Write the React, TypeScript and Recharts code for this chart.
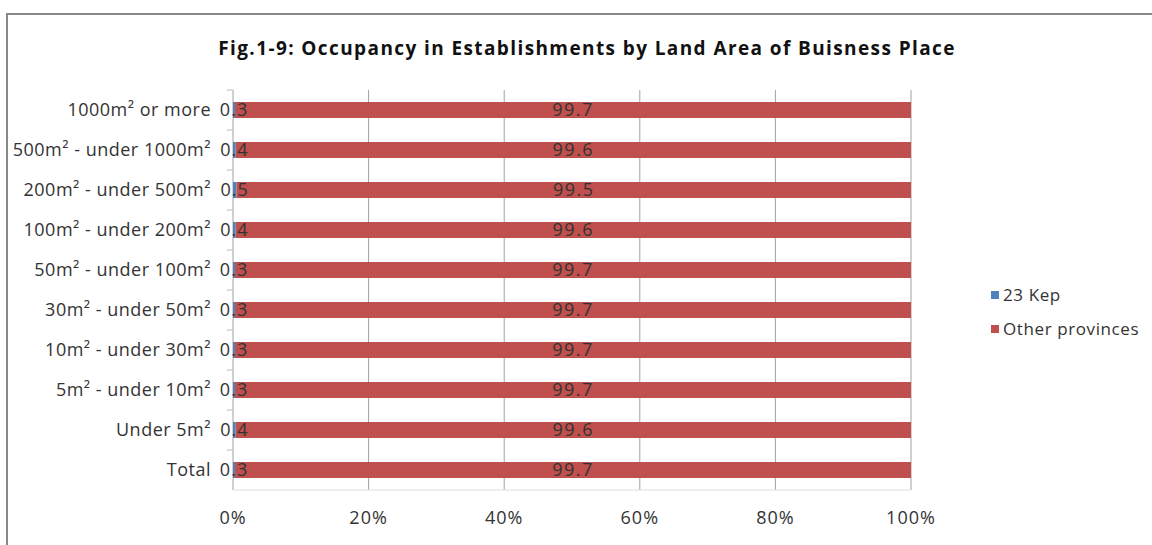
import { BarChart, Bar, XAxis, YAxis, CartesianGrid, LabelList } from "recharts";

const categories = [
  "1000m² or more",
  "500m² - under 1000m²",
  "200m² - under 500m²",
  "100m² - under 200m²",
  "50m² - under 100m²",
  "30m² - under 50m²",
  "10m² - under 30m²",
  "5m² - under 10m²",
  "Under 5m²",
  "Total",
];
const kep = [0.3, 0.4, 0.5, 0.4, 0.3, 0.3, 0.3, 0.3, 0.4, 0.3];
const others = [99.7, 99.6, 99.5, 99.6, 99.7, 99.7, 99.7, 99.7, 99.6, 99.7];
const xTicks = [0, 20, 40, 60, 80, 100];

const data = categories.map((name, i) => ({ name, kep: kep[i], others: others[i] }));

const FONT = "'Open Sans', 'Noto Sans', sans-serif";
const BLUE = "#4F81BD";
const RED = "#C0504D";

function CatTick(props: any) {
  const { x, y, payload } = props;
  return (
    <g>
      <line x1={x + 16} x2={x + 22} y1={y - 20} y2={y - 20} stroke="#bbb" />
      <text
        x={x}
        y={y}
        dy={6}
        textAnchor="end"
        fill="#333"
        fontSize={18}
        letterSpacing={0.5}
        fontFamily={FONT}
      >
        {payload.value}
      </text>
    </g>
  );
}

export default function App() {
  return (
    <div
      style={{
        position: "fixed",
        left: 0,
        top: 0,
        width: 1152,
        height: 545,
        background: "#fff",
        overflow: "hidden",
        fontFamily: FONT,
      }}
    >
      <div
        style={{
          position: "absolute",
          left: 6,
          top: 13,
          width: 1200,
          height: 600,
          borderLeft: "2px solid #888",
          borderTop: "2px solid #888",
        }}
      />
      <div
        style={{
          position: "absolute",
          left: 0,
          width: 1174,
          top: 35,
          textAlign: "center",
          fontWeight: "bold",
          fontSize: 19,
          letterSpacing: 1.4,
          color: "#111",
        }}
      >
        Fig.1-9: Occupancy in Establishments by Land Area of Buisness Place
      </div>
      <div style={{ position: "absolute", left: 0, top: 0 }}>
        <BarChart
          width={1152}
          height={545}
          data={data}
          layout="vertical"
          barSize={16}
          margin={{ top: 90, right: 241, bottom: 25, left: 8 }}
        >
          <CartesianGrid horizontal={false} stroke="#a0a0a0" />
          <XAxis
            type="number"
            domain={[0, 100]}
            ticks={xTicks}
            tickFormatter={(v) => `${v}%`}
            axisLine={{ stroke: "#ddd" }}
            tickLine={false}
            tickSize={0}
            tickMargin={21}
            height={30}
            tick={{ fontSize: 18, fill: "#333", fontFamily: FONT, letterSpacing: 1 }}
            interval={0}
          />
          <YAxis
            type="category"
            dataKey="name"
            width={225}
            axisLine={false}
            tickLine={false}
            tickSize={0}
            tickMargin={22}
            tick={<CatTick />}
            interval={0}
          />
          <Bar dataKey="kep" stackId="a" fill={BLUE} isAnimationActive={false}>
            <LabelList
              dataKey="kep"
              position="center"
              fill="#333"
              fontSize={18}
              letterSpacing={1}
              fontFamily={FONT}
            />
          </Bar>
          <Bar dataKey="others" stackId="a" fill={RED} isAnimationActive={false}>
            <LabelList
              dataKey="others"
              position="center"
              fill="#333"
              fontSize={18}
              letterSpacing={1.5}
              fontFamily={FONT}
            />
          </Bar>
        </BarChart>
      </div>
      <div
        style={{
          position: "absolute",
          left: 991,
          top: 283,
          fontSize: 17,
          letterSpacing: 0.6,
          color: "#333",
          lineHeight: "23px",
        }}
      >
        <div style={{ display: "flex", alignItems: "center", marginBottom: 11 }}>
          <span style={{ width: 8, height: 8, background: BLUE, marginRight: 4 }} />
          23 Kep
        </div>
        <div style={{ display: "flex", alignItems: "center" }}>
          <span style={{ width: 8, height: 8, background: RED, marginRight: 4 }} />
          Other provinces
        </div>
      </div>
    </div>
  );
}
